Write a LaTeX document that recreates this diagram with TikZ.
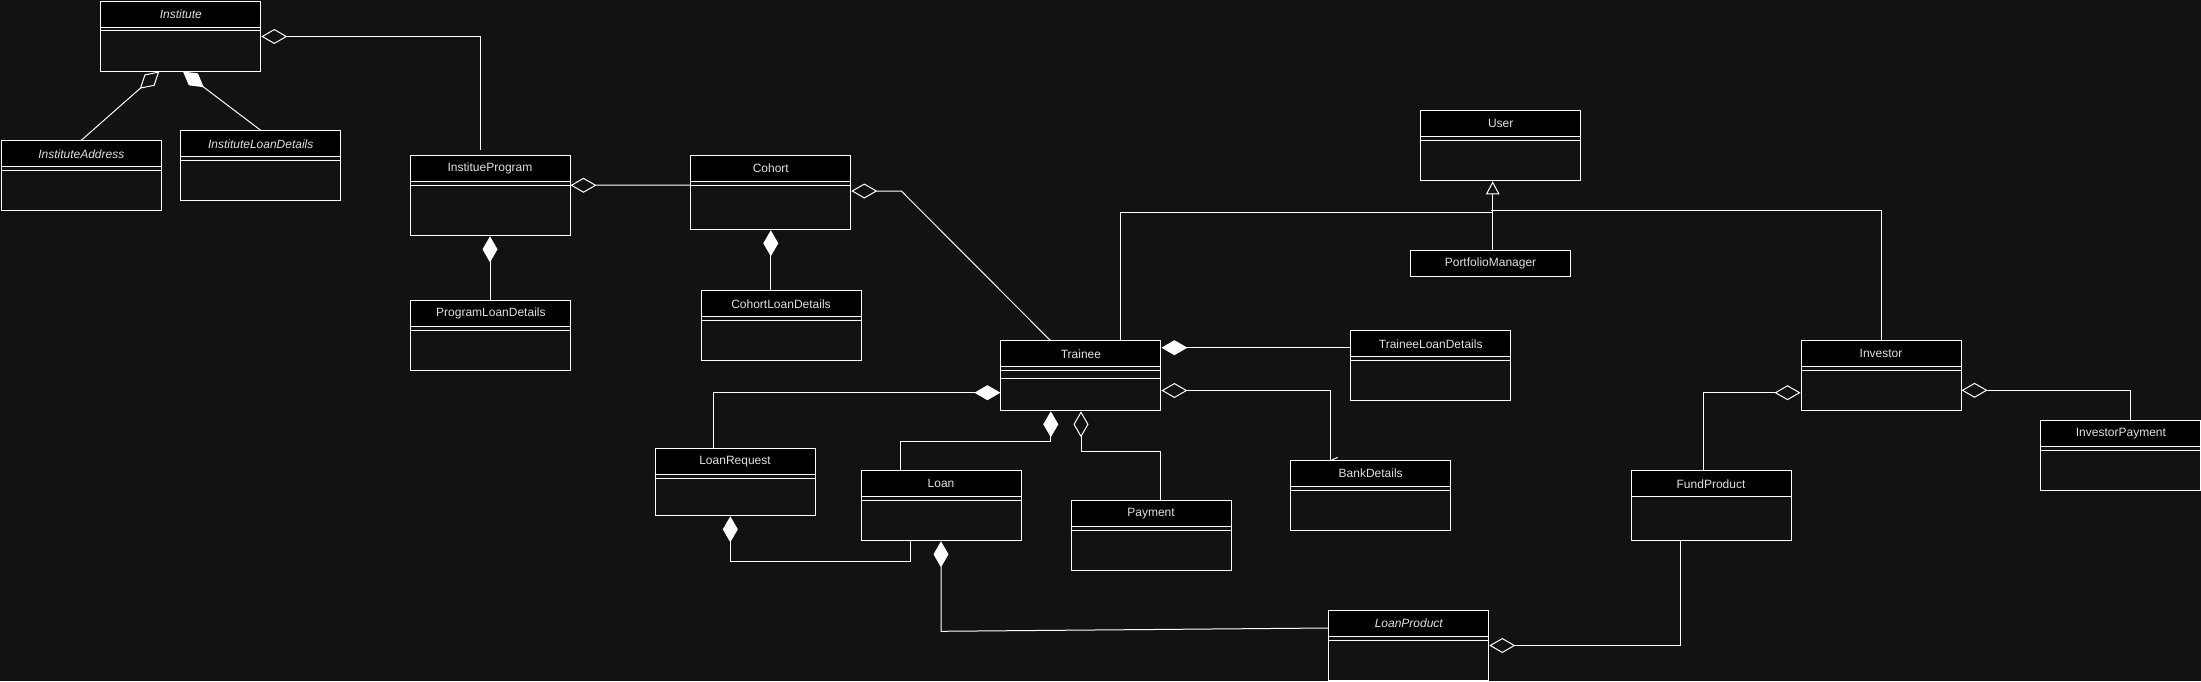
\documentclass[tikz,border=0pt]{standalone}
\usepackage{fontspec}
\setmainfont{Liberation Sans}
\usetikzlibrary{arrows.meta,calc}
\definecolor{bgc}{HTML}{121212}
\definecolor{txt}{HTML}{E0E0E0}
\tikzset{
  cls/.style={draw=white, line width=1pt, fill=bgc, minimum width=160pt, inner sep=0pt, anchor=north west},
  hdr/.style={draw=white, line width=1pt, fill=black, minimum width=160pt, minimum height=26pt, inner sep=0pt, anchor=north west, text=txt, font=\fontsize{12}{14}\selectfont},
  sepline/.style={draw=white, line width=1pt},
  conn/.style={draw=white, line width=1pt},
  aggr/.style={conn, {Diamond[open, length=26pt, width=15pt]}-},
  comp/.style={conn, {Diamond[fill=white, length=26pt, width=15pt]}-},
  gen/.style={conn, -{Triangle[open, length=13pt, width=13.6pt]}},
}
\newcommand\umlclass[5]{%
  \node[cls, minimum height=#4pt] (#1) at (#2,#3) {};
  \node[hdr] (#1-h) at (#1.north west) {#5};
  \draw[sepline] ([yshift=-30pt]#1.north west) -- ([yshift=-30pt]#1.north east);
}
\begin{document}
\begin{tikzpicture}[x=1pt,y=-1pt]
\useasboundingbox (0,0) rectangle (2201,681);
\fill[bgc] (0,0) rectangle (2201,681);

% classes
\umlclass{inst}{100.3}{0.5}{70}{\itshape Institute}
\umlclass{ia}{0.8}{140.3}{70}{\itshape InstituteAddress}
\umlclass{ild}{180.2}{130.3}{70}{\itshape InstituteLoanDetails}
\umlclass{ip}{409.5}{155.3}{80}{InstitueProgram}
\umlclass{pld}{410.4}{300.3}{70}{ProgramLoanDetails}
\umlclass{cohort}{690.3}{155}{74.3}{Cohort}
\umlclass{cld}{700.5}{290.3}{70}{CohortLoanDetails}
\umlclass{user}{1420.2}{110}{70.3}{User}
\node[hdr] (pm) at (1410,250.3) {PortfolioManager};
\umlclass{trainee}{1000.4}{340.3}{70}{Trainee}
\draw[sepline] ([yshift=-38pt]trainee.north west) -- ([yshift=-38pt]trainee.north east);
\umlclass{tld}{1350.2}{330.3}{70}{TraineeLoanDetails}
\umlclass{lr}{654.5}{448.3}{67}{LoanRequest}
\umlclass{loan}{860.5}{470}{70.3}{Loan}
\umlclass{payment}{1070.5}{500.3}{70}{Payment}
\umlclass{bd}{1290.2}{460}{70.3}{BankDetails}
\node[cls, minimum height=70pt] (fp) at (1630.5,470.3) {};
\node[hdr] (fp-h) at (fp.north west) {FundProduct};
\umlclass{inv}{1800.5}{340.3}{70}{Investor}
\umlclass{invpay}{2040.4}{420.3}{70}{InvestorPayment}
\umlclass{lp}{1328.3}{610}{70}{\itshape LoanProduct}

% connectors
\draw[aggr, shorten >=5pt] ([yshift=-0.5pt]inst.east) -| ([xshift=-9.2pt]ip.north);
\draw[aggr] ([xshift=-21.5pt]inst.south) -- (ia.north);
\draw[comp] ([xshift=2.2pt]inst.south) -- (ild.north);
\draw[aggr] ([yshift=-30pt]ip.north east) -- ([yshift=-30pt]cohort.north west);
\draw[comp] (ip.south) -- (ip.south |- pld.north);
\draw[comp] (cohort.south) -- (cohort.south |- cld.north);
\draw[aggr] ([yshift=-36pt]cohort.north east) -- ++(50,0) -- ([xshift=-30.7pt]trainee.north);

\coordinate (t1) at ([yshift=-7.4pt]trainee.north east);
\coordinate (t2) at ([yshift=-50.2pt]trainee.north east);
\coordinate (t3) at ([yshift=-52.4pt]trainee.north west);
\draw[comp] (t1) -- (t1 -| tld.west);
\draw[aggr] (t2) -| ([xshift=40.2pt]bd.north west);
\draw[conn] ([xshift=41.5pt]bd.north west) -- ++(6,-2.6);
\draw[comp] (t3) -| ([xshift=59pt]lr.north west);
\draw[comp] ([xshift=-30.1pt]trainee.south) -- ++(0,30) -| ([xshift=39.7pt]loan.north west);
\draw[aggr] ([xshift=0.1pt]trainee.south) -- ++(0,40) -| ([xshift=90pt]payment.north west);
\draw[comp] ([xshift=75.8pt]lr.south west) -- ++(0,45) -| ([xshift=50.1pt]loan.south west);
\draw[comp] (loan.south) -- ++(0,90) -- ([yshift=-18pt]lp.north west);
\draw[aggr] (lp.east) -| ([xshift=50.1pt]fp.south west);
\draw[aggr] ([yshift=-52.4pt]inv.north west) -| ([xshift=73pt]fp.north west);
\draw[aggr] ([yshift=-50pt]inv.north east) -| ([xshift=90.1pt]invpay.north west);

% generalization
\draw[gen] ([xshift=2.2pt]pm.north) -- ([xshift=-8pt]user.south);
\coordinate (gj1) at ([xshift=2.2pt,yshift=38pt]pm.north);
\coordinate (gj2) at ([yshift=40pt]pm.north);
\draw[conn] ([xshift=40pt]trainee.north) |- (gj1);
\draw[conn] (inv.north) |- (gj2);
\end{tikzpicture}
\end{document}
